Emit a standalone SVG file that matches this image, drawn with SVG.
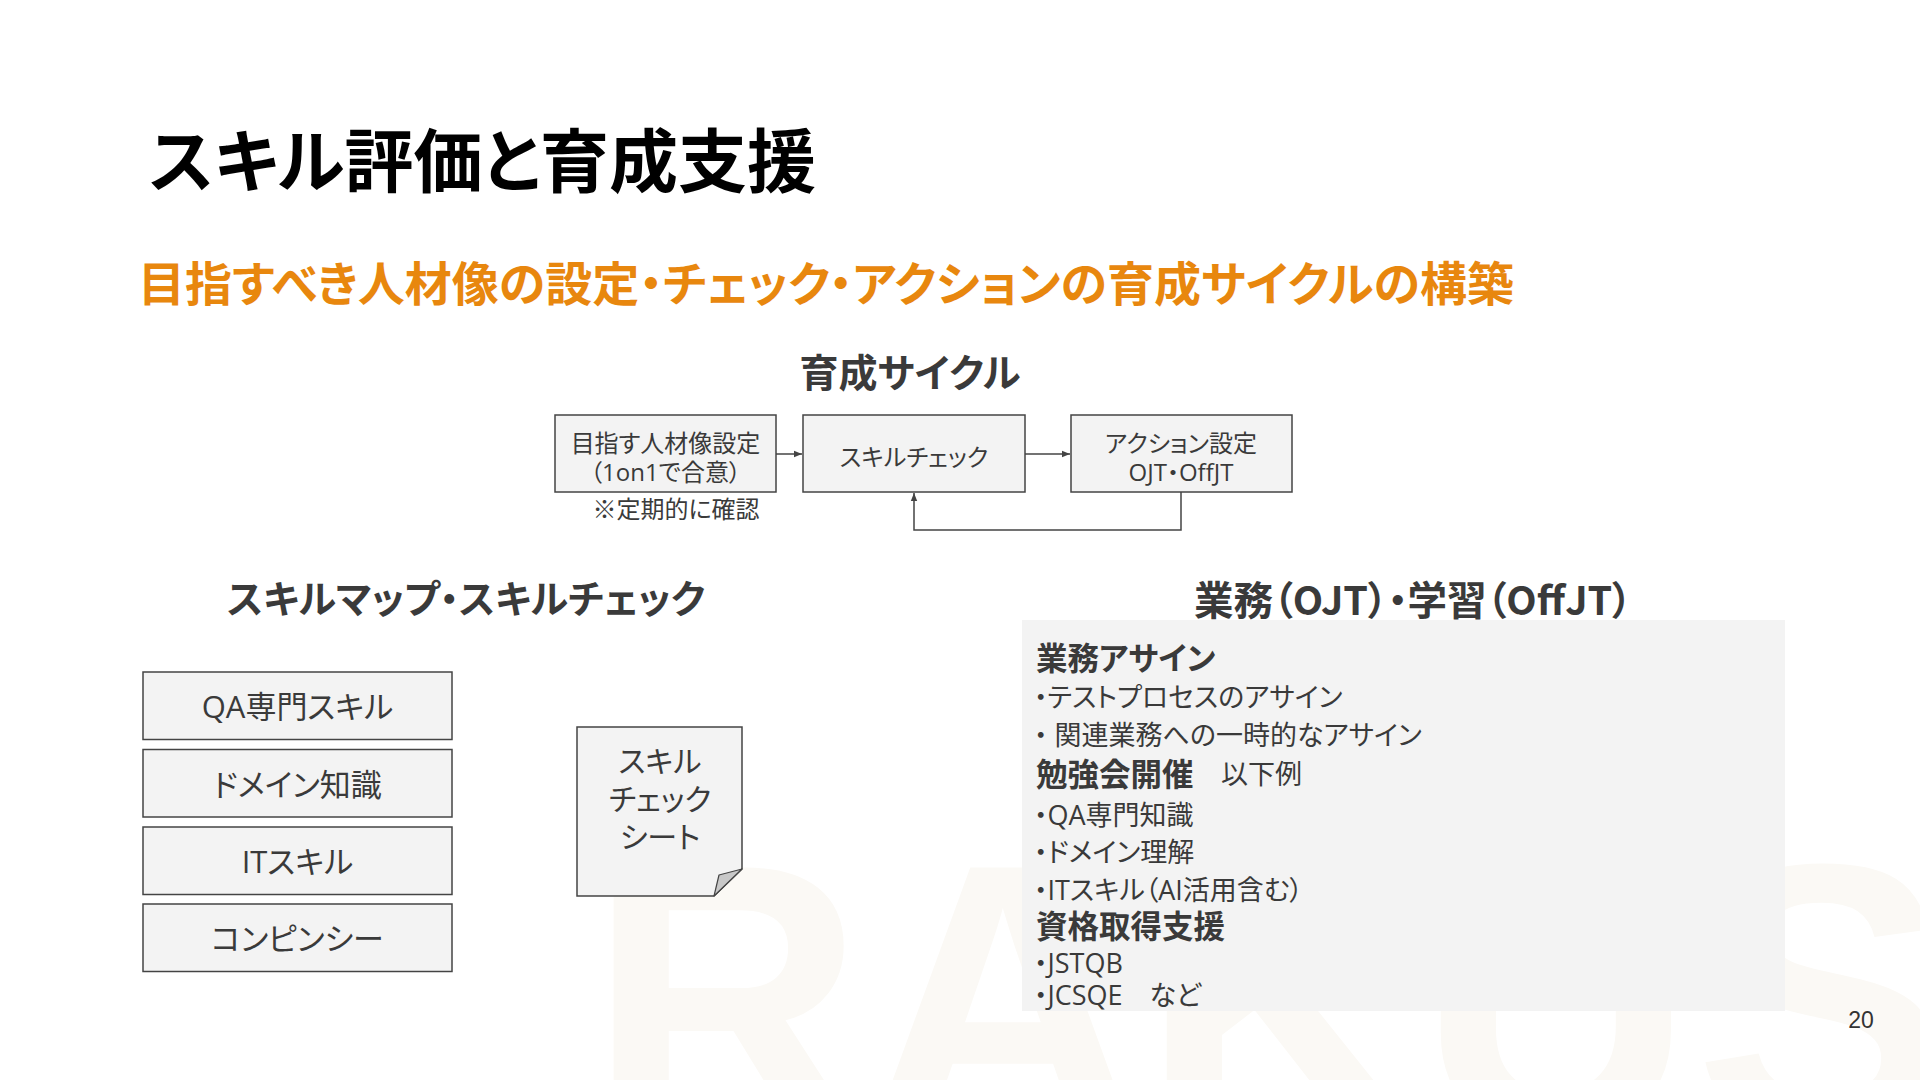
<svg xmlns="http://www.w3.org/2000/svg" width="1920" height="1080" viewBox="0 0 1920 1080">
<defs>
<style>
text{font-family:"Open Sans","Noto Sans CJK JP",sans-serif;font-feature-settings:"palt";dominant-baseline:central;fill:#3a3a3a}
.jp{font-family:"Noto Sans CJK JP",sans-serif}
.title{font-size:69px;font-weight:700;fill:#000}
.sub{font-size:47px;font-weight:700;fill:#E8870E}
.h{font-weight:700;fill:#3a3a3a;text-anchor:middle}
.box{fill:#f3f3f3;stroke:#444;stroke-width:1.5}
.bt{font-size:24px;text-anchor:middle}
.st{font-size:31px;text-anchor:middle}
.pb{font-size:31.5px;font-weight:700}
.pt{font-size:27px}
.conn{fill:none;stroke:#444;stroke-width:1.5}
</style>
<marker id="ah" viewBox="0 0 10 10" refX="10" refY="5" markerWidth="8" markerHeight="8" markerUnits="userSpaceOnUse" orient="auto">
<path d="M0,1 L10,5 L0,9 z" fill="#444"/>
</marker>
</defs>
<rect width="1920" height="1080" fill="#fff"/>
<text x="588" y="1131" style="font-family:'Liberation Sans',sans-serif;font-size:383px;font-weight:700;fill:#fbf9f5;dominant-baseline:auto;font-feature-settings:normal">RAKUS</text>

<text class="title jp" x="149" y="157">スキル評価と育成支援</text>
<text class="sub jp" x="138" y="280">目指すべき人材像の設定・チェック・アクションの育成サイクルの構築</text>

<text class="h jp" x="910" y="370" style="font-size:39px">育成サイクル</text>

<g id="cycle-target">
<rect class="box" x="555" y="415" width="221" height="77"/>
<text class="bt" x="665.5" y="442">目指す人材像設定</text>
<text class="bt" x="665.5" y="471">（1on1で合意）</text>
</g>
<g id="cycle-check">
<rect class="box" x="803" y="415" width="222" height="77"/>
<text class="bt" x="914" y="456">スキルチェック</text>
</g>
<g id="cycle-action">
<rect class="box" x="1071" y="415" width="221" height="77"/>
<text class="bt" x="1181" y="442">アクション設定</text>
<text class="bt" x="1181" y="471">OJT・OffJT</text>
</g>
<g id="cycle-note">
<text class="bt" x="676" y="508">※定期的に確認</text>
</g>

<g id="connectors">
<line class="conn" x1="776" y1="454" x2="802" y2="454" marker-end="url(#ah)"/>
<line class="conn" x1="1025" y1="454" x2="1070" y2="454" marker-end="url(#ah)"/>
<path class="conn" d="M1181,492 V530 H914 V493" marker-end="url(#ah)"/>
</g>

<text class="h jp" x="466" y="596" style="font-size:38.5px">スキルマップ・スキルチェック</text>

<g id="skill-qa">
<rect class="box" x="143" y="672" width="309" height="67.5"/>
<text class="st" x="297.5" y="706">QA専門スキル</text>
</g>
<g id="skill-domain">
<rect class="box" x="143" y="749.5" width="309" height="67.5"/>
<text class="st" x="297.5" y="783.5">ドメイン知識</text>
</g>
<g id="skill-it">
<rect class="box" x="143" y="827" width="309" height="67.5"/>
<text class="st" x="297.5" y="861">ITスキル</text>
</g>
<g id="skill-comp">
<rect class="box" x="143" y="904" width="309" height="67.5"/>
<text class="st" x="297.5" y="938">コンピンシー</text>
</g>

<g id="check-sheet">
<path class="box" d="M577,727 H742 V869 L714,896 H577 Z"/>
<path d="M742,869 L719,875 L714,896 Z" fill="#c8c8c8" stroke="#444" stroke-width="1.2" stroke-linejoin="round"/>
<text class="st" x="660" y="760" style="font-size:30px">スキル</text>
<text class="st" x="660" y="798" style="font-size:30px">チェック</text>
<text class="st" x="660" y="836" style="font-size:30px">シート</text>
</g>

<text class="h jp" x="1413" y="597" style="font-size:39.5px">業務（OJT）・学習（OffJT）</text>

<g id="ojt-panel">
<rect x="1022" y="620" width="763" height="391" fill="#f3f3f3"/>
<text class="pb" x="1036" y="657">業務アサイン</text>
<text class="pt" x="1034" y="696">・テストプロセスのアサイン</text>
<text class="pt" x="1034" y="734">・ 関連業務への一時的なアサイン</text>
<text class="pb" x="1036" y="773">勉強会開催<tspan class="pt" style="font-weight:400" x="1221">以下例</tspan></text>
<text class="pt" x="1034" y="814">・QA専門知識</text>
<text class="pt" x="1034" y="851">・ドメイン理解</text>
<text class="pt" x="1034" y="889">・ITスキル（AI活用含む）</text>
<text class="pb" x="1036" y="925">資格取得支援</text>
<text class="pt" x="1034" y="962">・JSTQB</text>
<text class="pt" x="1034" y="994">・JCSQE　など</text>
</g>

<text x="1861" y="1020" style="font-family:'Liberation Sans',sans-serif;font-size:23px;fill:#333;text-anchor:middle">20</text>
</svg>
